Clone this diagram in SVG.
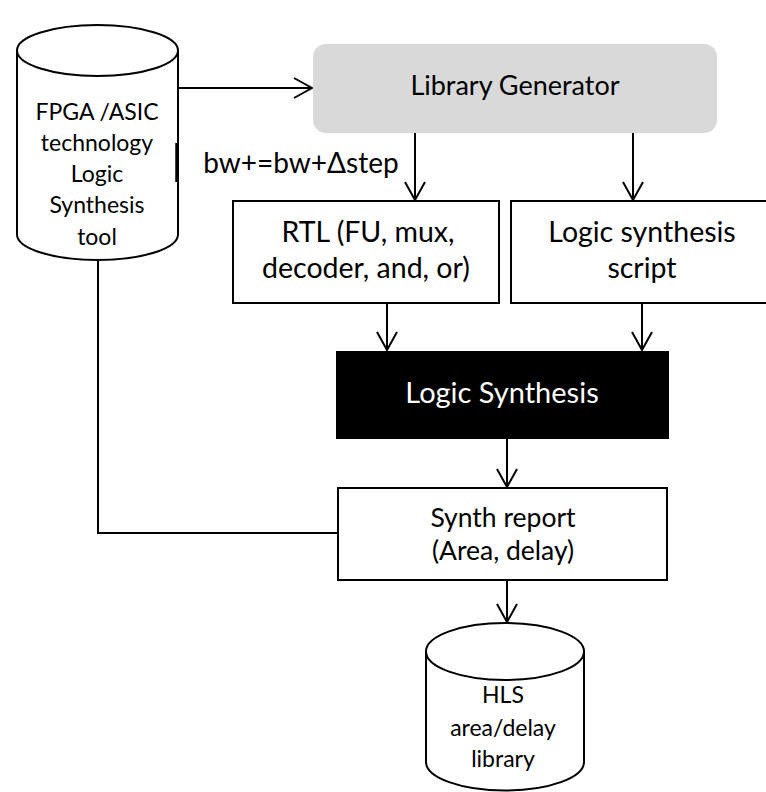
<svg xmlns="http://www.w3.org/2000/svg" width="766" height="792" viewBox="0 0 766 792">
  <style>
    text { font-family: Lato, "Open Sans", "Liberation Sans", sans-serif; fill: #000; text-anchor: middle; }
    .box { fill: #fff; stroke: #000; stroke-width: 2; }
    .cyl { fill: #fff; stroke: #000; stroke-width: 2; }
    .edge { fill: none; stroke: #000; stroke-width: 2; }
    .big { font-size: 28.5px; }
    .mid { font-size: 26.5px; }
    .small { font-size: 23px; }
  </style>
  <defs>
    <marker id="arrow" viewBox="-20 -12 22 24" refX="0" refY="0" markerWidth="22" markerHeight="24" markerUnits="userSpaceOnUse" orient="auto">
      <path d="M-18,-10 L0,0 L-18,10" fill="none" stroke="#000" stroke-width="2"/>
    </marker>
  </defs>
  <rect width="766" height="792" fill="#fff"/>

  <!-- connectors -->
  <g id="connectors">
    <path class="edge" d="M98,260 V533 H338" stroke-width="3"/>
    <line class="edge" x1="178" y1="88" x2="312" y2="88" marker-end="url(#arrow)"/>
    <line class="edge" x1="415" y1="133" x2="415" y2="200" marker-end="url(#arrow)"/>
    <line class="edge" x1="633" y1="133" x2="633" y2="200" marker-end="url(#arrow)"/>
    <line class="edge" x1="387" y1="303" x2="387" y2="350" marker-end="url(#arrow)"/>
    <line class="edge" x1="642" y1="303" x2="642" y2="350" marker-end="url(#arrow)"/>
    <line class="edge" x1="507" y1="439" x2="507" y2="487" marker-end="url(#arrow)"/>
    <line class="edge" x1="507" y1="580" x2="507" y2="622" marker-end="url(#arrow)"/>
    <text x="301" y="173" style="font-size:28px">bw+=bw+Δstep</text>
  </g>

  <!-- technology database -->
  <g id="tech-db">
    <path class="cyl" d="M17,50.5 V234.5 A80.5,25.5 0 0 0 178,234.5 V50.5"/>
    <ellipse class="cyl" cx="97.5" cy="50.5" rx="80.5" ry="25.5"/>
    <line x1="177" y1="143" x2="177" y2="182" stroke="#000" stroke-width="3.5"/>
    <text class="small" x="97" y="120">FPGA /ASIC</text>
    <text class="small" x="97" y="151">technology</text>
    <text class="small" x="97" y="182">Logic</text>
    <text class="small" x="97" y="213">Synthesis</text>
    <text class="small" x="97" y="245">tool</text>
  </g>

  <g id="library-generator">
    <rect x="313" y="44" width="404" height="89" rx="13" fill="#d9d9d9"/>
    <text x="515" y="95" style="font-size:27px">Library Generator</text>
  </g>

  <g id="rtl">
    <rect class="box" x="233" y="201" width="266" height="102"/>
    <text class="big" x="368" y="242">RTL (FU, mux,</text>
    <text class="big" x="366" y="278">decoder, and, or)</text>
  </g>

  <g id="synthesis-script">
    <rect class="box" x="511" y="201" width="270" height="102"/>
    <text class="big" x="642" y="242">Logic synthesis</text>
    <text class="big" x="642" y="278">script</text>
  </g>

  <g id="logic-synthesis">
    <rect x="336" y="351" width="333" height="88" fill="#000"/>
    <text x="502" y="403" style="fill:#fff;font-size:29px">Logic Synthesis</text>
  </g>

  <g id="synth-report">
    <rect class="box" x="338" y="488" width="329" height="92"/>
    <text class="mid" x="503" y="527">Synth report</text>
    <text class="mid" x="503" y="560">(Area, delay)</text>
  </g>

  <g id="hls-library">
    <path class="cyl" d="M426,651.5 V762 A79,28.5 0 0 0 584,762 V651.5"/>
    <ellipse class="cyl" cx="505" cy="651.5" rx="79" ry="28.5"/>
    <text class="small" x="503" y="703">HLS</text>
    <text class="small" x="503" y="736">area/delay</text>
    <text class="small" x="503" y="767">library</text>
  </g>
</svg>
